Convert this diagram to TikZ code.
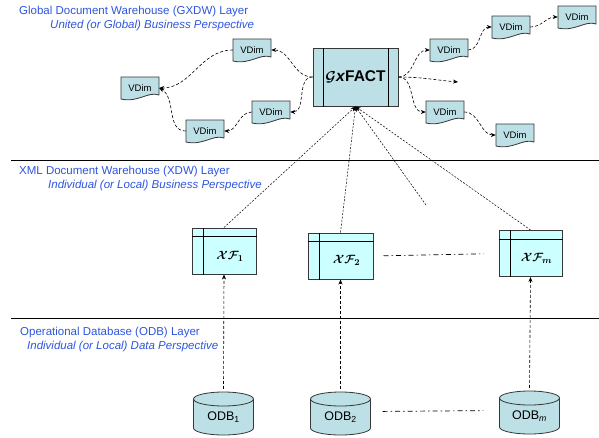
\documentclass[tikz,border=0pt]{standalone}
\usepackage{fontspec}
\setmainfont{Liberation Sans}
\usetikzlibrary{arrows.meta}
\definecolor{layerblue}{RGB}{45,85,220}
\definecolor{docfill}{RGB}{188,224,229}
\definecolor{xffill}{RGB}{204,255,255}
\definecolor{edgegray}{RGB}{55,55,55}
\newcommand\vdimshape[2]{%
  \path (#2) coordinate (#1c);
  \filldraw[fill=docfill,draw=edgegray,line width=0.8pt]
    ([shift={(-19pt,11pt)}]#1c) -- ([shift={(19pt,11pt)}]#1c) -- ([shift={(19pt,-7pt)}]#1c)
    .. controls ([shift={(8pt,-3pt)}]#1c) and ([shift={(-2pt,-15pt)}]#1c) .. ([shift={(-19pt,-11pt)}]#1c) -- cycle;
  \node[vdimnode] (#1) at (#2) {VDim};}
\newcommand\odbshape[3]{%
  \path (#2) coordinate (#1c);
  \filldraw[fill=docfill,draw=edgegray,line width=0.8pt]
    ([shift={(-30pt,14.5pt)}]#1c) -- ++(0pt,-29pt)
    arc[start angle=180,end angle=360,x radius=30pt,y radius=7pt] -- ++(0pt,29pt)
    arc[start angle=0,end angle=180,x radius=30pt,y radius=7pt] -- cycle;
  \draw[draw=edgegray,line width=0.8pt] ([shift={(-30pt,14.5pt)}]#1c)
    arc[start angle=180,end angle=360,x radius=30pt,y radius=7pt];
  \node[odbnode] (#1) at (#2) {#3};}
\begin{document}
\begin{tikzpicture}[x=1pt,y=-1pt,
  layertitle/.style={anchor=west,text=layerblue,inner sep=0pt,font=\fontsize{11.5}{13}\selectfont},
  layersub/.style={anchor=west,text=layerblue,inner sep=0pt,font=\fontsize{11.5}{13}\selectfont\itshape},
  layerline/.style={line width=0.8pt},
  vdimnode/.style={rectangle,minimum width=38pt,minimum height=22pt,inner sep=0pt,font=\fontsize{9.5}{11}\selectfont},
  odbnode/.style={rectangle,minimum width=60pt,minimum height=43pt,inner sep=0pt,text height=14pt,text depth=0pt,font=\fontsize{12.5}{14}\selectfont},
  factbox/.style={rectangle,draw=edgegray,fill=docfill,line width=1pt,minimum width=85pt,minimum height=58pt,inner sep=0pt,font=\fontsize{15.5}{17}\selectfont\boldmath},
  xfbox/.style={rectangle,draw=edgegray,fill=xffill,line width=1pt,minimum height=46pt,inner sep=0pt},
  xflabel/.style={inner sep=0pt,font=\fontsize{12.5}{14}\selectfont\boldmath},
  innerline/.style={line width=0.8pt},
  conn/.style={dash pattern=on 3pt off 2pt,line width=0.6pt,-{Stealth[length=5pt,width=4pt]}},
  fine/.style={dash pattern=on 2pt off 1.5pt,line width=0.5pt,-{Stealth[length=5pt,width=4pt]}},
  dashdot/.style={dash pattern=on 5pt off 3pt on 1.5pt off 3pt,line width=0.7pt}]
\useasboundingbox (0,0) rectangle (599,437);

% layer titles
\node[layertitle] (t1) at (19,12) {Global Document Warehouse (GXDW) Layer};
\node[layersub] (s1) at (50,26) {United (or Global) Business Perspective};
\node[layertitle] (t2) at (19,172) {XML Document Warehouse (XDW) Layer};
\node[layersub] (s2) at (48,186) {Individual (or Local) Business Perspective};
\node[layertitle] (t3) at (20,333) {Operational Database (ODB) Layer};
\node[layersub] (s3) at (27,347) {Individual (or Local) Data Perspective};

\draw[layerline] (11,160) -- (599,160);
\draw[layerline] (11,318) -- (599,318);

% GxFACT
\node[factbox] (gx) at (355.5,77) {$\mathcal{G}$\textit{\textbf{x}}\textbf{FACT}};
\draw[innerline] ([xshift=11pt]gx.north west) -- ([xshift=11pt]gx.south west);
\draw[innerline] ([xshift=-10pt]gx.north east) -- ([xshift=-10pt]gx.south east);

% VDims
\vdimshape{vdA}{252,50}
\vdimshape{vdB}{140,88}
\vdimshape{vdC}{271,112}
\vdimshape{vdD}{205,131}
\vdimshape{vdE}{449,50}
\vdimshape{vdF}{511,27}
\vdimshape{vdG}{577,17}
\vdimshape{vdH}{445,112}
\vdimshape{vdI}{515,135}

\coordinate (dangR) at (458,82);
\coordinate (dangB) at (426,205);

\draw[conn] (gx.west) to[out=180,in=0] (vdA.east);
\draw[conn] (vdA.west) to[out=180,in=0] (vdB.east);
\draw[conn] (vdD.west) to[out=180,in=-30] (vdB.east);
\draw[conn] (vdC.west) to[out=180,in=0] (vdD.east);
\draw[conn] (gx.west) to[out=180,in=0] (vdC.east);
\draw[conn] (gx.east) to[out=0,in=180] (vdE.west);
\draw[conn] (gx.east) to[out=0,in=175] (dangR);
\draw[conn] (gx.east) to[out=0,in=180] (vdH.west);
\draw[conn] (vdE.east) to[out=0,in=180] (vdF.west);
\draw[conn] (vdF.east) to[out=0,in=180] (vdG.west);
\draw[conn] (vdH.east) to[out=0,in=180] (vdI.west);

% XDW layer
\node[xfbox,minimum width=64pt] (xf1) at (224,251) {};
\draw[innerline] ([xshift=12pt]xf1.north west) -- ([xshift=12pt]xf1.south west);
\draw[innerline] ([yshift=-9pt]xf1.north west) -- ([yshift=-9pt]xf1.north east);
\node[xflabel] (xf1t) at (230,256) {$\mathcal{X}\mathcal{F}_{1}$};

\node[xfbox,minimum width=65pt] (xf2) at (340.5,256) {};
\draw[innerline] ([xshift=12pt]xf2.north west) -- ([xshift=12pt]xf2.south west);
\draw[innerline] ([yshift=-9pt]xf2.north west) -- ([yshift=-9pt]xf2.north east);
\node[xflabel] (xf2t) at (346.5,260.5) {$\mathcal{X}\mathcal{F}_{2}$};

\node[xfbox,minimum width=63pt] (xfm) at (530.5,253.5) {};
\draw[innerline] ([xshift=12pt]xfm.north west) -- ([xshift=12pt]xfm.south west);
\draw[innerline] ([yshift=-9pt]xfm.north west) -- ([yshift=-9pt]xfm.north east);
\node[xflabel] (xfmt) at (536.5,258) {$\mathcal{X}\mathcal{F}_{m}$};

\draw[dashdot,shorten <=10pt,shorten >=15pt] (xf2.east) -- (xfm.west);

\draw[fine] (xf1.north) -- (gx.south);
\draw[fine] (xf2.north) -- (gx.south);
\draw[fine] (dangB) -- (gx.south);
\draw[fine] (xfm.north) -- (gx.south);

% ODB layer
\odbshape{odb1}{223.5,413.5}{ODB\textsubscript{1}}
\odbshape{odb2}{340.5,413.5}{ODB\textsubscript{2}}
\odbshape{odbm}{529.5,412.5}{ODB\textsubscript{\itshape m}}
\draw[dashdot,shorten <=12pt,shorten >=16pt] ([yshift=2pt]odb2.east) -- ([yshift=2pt]odbm.west);

\draw[conn] ([yshift=3pt]odb1.north) -- (xf1.south);
\draw[conn] ([yshift=3pt]odb2.north) -- (xf2.south);
\draw[conn] ([yshift=3pt]odbm.north) -- (xfm.south);
\end{tikzpicture}
\end{document}
